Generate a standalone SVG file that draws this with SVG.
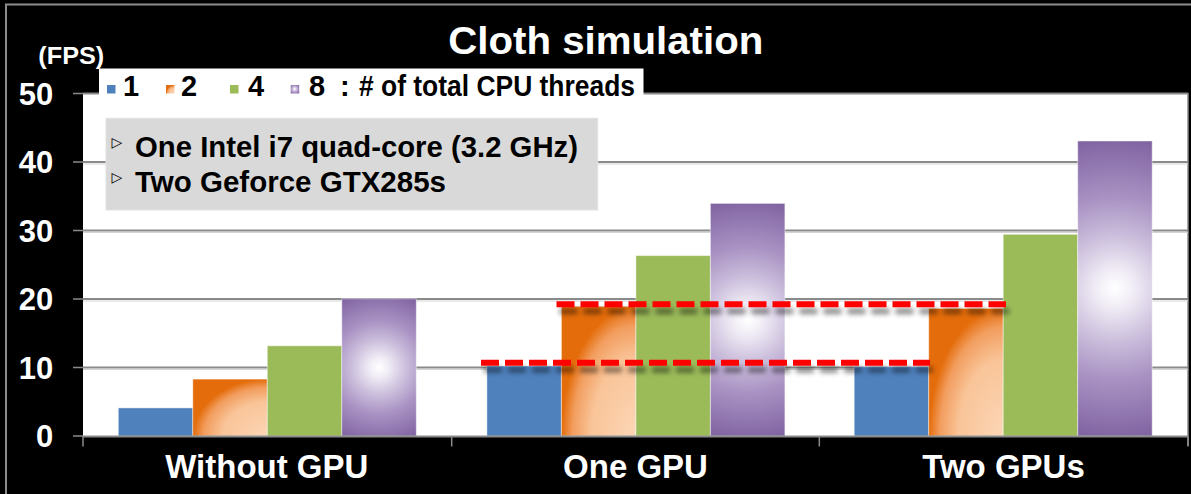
<svg xmlns="http://www.w3.org/2000/svg" width="1191" height="494" viewBox="0 0 1191 494">
<style>
  .w { fill: #ffffff; font-family: "Liberation Sans", Arial, sans-serif; font-weight: bold; }
  .k { fill: #000000; font-family: "Liberation Sans", Arial, sans-serif; font-weight: bold; }
  .ylab { font-size: 31px; text-anchor: end; }
  .xlab { font-size: 33px; text-anchor: middle; }
  .leg { font-size: 29px; }
  .info { font-size: 29px; }
  .tri { fill: #000; font-family: "DejaVu Sans", sans-serif; font-size: 14px; }
  .grid { stroke: #8a8a8a; stroke-width: 2; }
  .gridl { stroke: #d4d4d4; stroke-width: 1; }
  .tick { stroke: #8a8a8a; stroke-width: 1.5; }
  .blue { fill: #4f81bd; }
  .green { fill: #9bbb59; }
  .orange { fill: url(#orangeG); }
  .bar { stroke: #ffffff; stroke-opacity: 0.45; stroke-width: 1; }
  .dash { stroke: #ff0000; stroke-width: 6; stroke-dasharray: 18 6; fill: none; }
</style>
<defs>
  <radialGradient id="orangeG" cx="1" cy="1" r="1" fx="1" fy="1">
    <stop offset="0" stop-color="#fcd6b6"/>
    <stop offset="0.6" stop-color="#f9c498"/>
    <stop offset="0.85" stop-color="#f29d5e"/>
    <stop offset="1" stop-color="#e46c0a"/>
  </radialGradient>
  <radialGradient id="purpleBase">
    <stop offset="0" stop-color="#ffffff"/>
    <stop offset="0.12" stop-color="#f1edf6"/>
    <stop offset="0.35" stop-color="#cbbedc"/>
    <stop offset="0.6" stop-color="#a992c3"/>
    <stop offset="1" stop-color="#7f62a1"/>
  </radialGradient>
  <radialGradient id="pG1" href="#purpleBase" gradientUnits="userSpaceOnUse" cx="379" cy="367.4" r="78"/>
  <radialGradient id="pG2" href="#purpleBase" gradientUnits="userSpaceOnUse" cx="747.6" cy="319.7" r="122"/>
  <radialGradient id="pG3" href="#purpleBase" gradientUnits="userSpaceOnUse" cx="1115" cy="288.5" r="152"/>
  <radialGradient id="pL" href="#purpleBase" gradientUnits="userSpaceOnUse" cx="294.7" cy="89" r="6"/>
  <filter id="shadow" filterUnits="userSpaceOnUse" x="400" y="280" width="700" height="110">
    <feGaussianBlur in="SourceAlpha" stdDeviation="2.5" result="b"/>
    <feOffset in="b" dx="3" dy="7" result="o"/>
    <feComponentTransfer in="o" result="s"><feFuncA type="linear" slope="0.45"/></feComponentTransfer>
    <feMerge><feMergeNode in="s"/><feMergeNode in="SourceGraphic"/></feMerge>
  </filter>
</defs>

<rect x="0" y="0" width="1191" height="494" fill="#000000"/>
<g id="frame">
  <line x1="5" y1="4.5" x2="1191" y2="4.5" stroke="#8c8c8c" stroke-width="2"/>
  <line x1="6" y1="4" x2="6" y2="494" stroke="#8c8c8c" stroke-width="2"/>
</g>

<g id="title">
  <text class="w" x="605.8" y="54" font-size="39" text-anchor="middle" textLength="315" lengthAdjust="spacingAndGlyphs">Cloth simulation</text>
  <text class="w" x="38.3" y="64" font-size="24" textLength="66" lengthAdjust="spacingAndGlyphs">(FPS)</text>
</g>

<g id="plot-area">
  <rect x="83" y="93" width="1105" height="343" fill="#ffffff"/>
  <line x1="1188" y1="93" x2="1188" y2="446" stroke="#8a8a8a" stroke-width="1.5"/>
</g>

<g id="gridlines">
  <line class="grid" x1="83" y1="93.5" x2="1188" y2="93.5"/>
  <line class="grid" x1="83" y1="162" x2="1188" y2="162"/>
  <line class="gridl" x1="83" y1="164" x2="1188" y2="164"/>
  <line class="grid" x1="83" y1="230.5" x2="1188" y2="230.5"/>
  <line class="gridl" x1="83" y1="232.5" x2="1188" y2="232.5"/>
  <line class="grid" x1="83" y1="299" x2="1188" y2="299"/>
  <line class="gridl" x1="83" y1="301" x2="1188" y2="301"/>
  <line class="grid" x1="83" y1="367.5" x2="1188" y2="367.5"/>
  <line class="gridl" x1="83" y1="369.5" x2="1188" y2="369.5"/>
</g>

<g id="y-axis">
  <line class="tick" x1="73" y1="93.5" x2="83" y2="93.5"/>
  <line class="tick" x1="73" y1="162" x2="83" y2="162"/>
  <line class="tick" x1="73" y1="230.5" x2="83" y2="230.5"/>
  <line class="tick" x1="73" y1="299" x2="83" y2="299"/>
  <line class="tick" x1="73" y1="367.5" x2="83" y2="367.5"/>
  <line class="tick" x1="73" y1="436" x2="83" y2="436"/>
  <text class="w ylab" x="53.3" y="104.5">50</text>
  <text class="w ylab" x="53.3" y="173">40</text>
  <text class="w ylab" x="53.3" y="241.5">30</text>
  <text class="w ylab" x="53.3" y="310">20</text>
  <text class="w ylab" x="53.3" y="378.5">10</text>
  <text class="w ylab" x="53.3" y="447">0</text>
</g>

<g id="bars-without-gpu">
  <rect class="blue bar" x="118.3" y="407.9" width="74.5" height="28.1"/>
  <rect class="orange bar" x="192.8" y="379.1" width="74.5" height="56.9"/>
  <rect class="green bar" x="267.3" y="345.8" width="74.5" height="90.2"/>
  <rect class="bar" fill="url(#pG1)" x="341.8" y="298.8" width="74.5" height="137.2"/>
</g>
<g id="bars-one-gpu">
  <rect class="blue bar" x="486.9" y="366" width="74.5" height="70"/>
  <rect class="orange bar" x="561.4" y="306.3" width="74.5" height="129.7"/>
  <rect class="green bar" x="635.9" y="255.6" width="74.5" height="180.4"/>
  <rect class="bar" fill="url(#pG2)" x="710.4" y="203.4" width="74.5" height="232.6"/>
</g>
<g id="bars-two-gpus">
  <rect class="blue bar" x="854.2" y="366.7" width="74.5" height="69.3"/>
  <rect class="orange bar" x="928.7" y="308.4" width="74.5" height="127.6"/>
  <rect class="green bar" x="1003.2" y="234.3" width="74.5" height="201.7"/>
  <rect class="bar" fill="url(#pG3)" x="1077.7" y="141" width="74.5" height="295"/>
</g>

<g id="x-axis">
  <line x1="83" y1="436.5" x2="1188" y2="436.5" stroke="#8a8a8a" stroke-width="2"/>
  <line class="tick" x1="83" y1="436" x2="83" y2="446.5"/>
  <line class="tick" x1="451.7" y1="436" x2="451.7" y2="446.5"/>
  <line class="tick" x1="819.3" y1="436" x2="819.3" y2="446.5"/>
  <line class="tick" x1="1188" y1="436" x2="1188" y2="446.5"/>
  <text class="w xlab" x="266.8" y="478">Without GPU</text>
  <text class="w xlab" x="635.5" y="478">One GPU</text>
  <text class="w xlab" x="1003.5" y="478">Two GPUs</text>
</g>

<g id="connectors" filter="url(#shadow)">
  <path class="dash" d="M481 362.7 H930"/>
  <path class="dash" d="M556.5 304.3 H1006"/>
</g>

<g id="legend">
  <rect x="99" y="68.5" width="544.5" height="35" fill="#ffffff"/>
  <rect class="blue" x="107" y="85" width="8.5" height="8.5"/>
  <text class="k leg" x="123" y="96">1</text>
  <rect class="orange" x="166" y="85" width="8.5" height="8.5"/>
  <text class="k leg" x="181" y="96">2</text>
  <rect class="green" x="230" y="85" width="8.5" height="8.5"/>
  <text class="k leg" x="248" y="96">4</text>
  <rect fill="url(#pL)" x="290.7" y="85" width="8.5" height="8.5"/>
  <text class="k leg" x="309" y="96">8</text>
  <text class="k leg" x="340" y="96">:</text>
  <text class="k leg" x="359" y="96" textLength="276" lengthAdjust="spacingAndGlyphs"># of total CPU threads</text>
</g>

<g id="info-box">
  <rect x="106" y="118.3" width="491.7" height="91.7" fill="#d9d9d9" stroke="#e2e2e2" stroke-width="1"/>
  <text class="tri" x="111.5" y="146.5">▷</text>
  <text class="k info" x="135" y="156.7" textLength="443" lengthAdjust="spacingAndGlyphs">One Intel i7 quad-core (3.2 GHz)</text>
  <text class="tri" x="111.5" y="181.5">▷</text>
  <text class="k info" x="135" y="191.7" textLength="311" lengthAdjust="spacingAndGlyphs">Two Geforce GTX285s</text>
</g>
</svg>
